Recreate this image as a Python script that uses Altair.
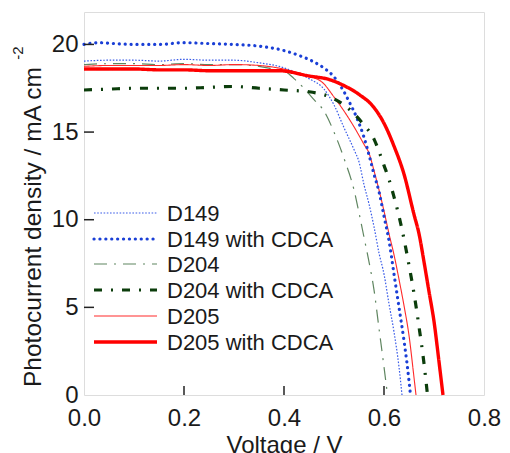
import altair as alt
import pandas as pd

# ---- data ----
series_names = ["D149", "D149 with CDCA", "D204", "D204 with CDCA", "D205", "D205 with CDCA"]

d149_v = [0, 0.05, 0.1, 0.15, 0.2, 0.25, 0.3, 0.35, 0.39, 0.42, 0.45, 0.48, 0.50, 0.52, 0.54, 0.55,
          0.56, 0.57, 0.58, 0.59, 0.60, 0.61, 0.62, 0.63, 0.636]
d149_j = [19.05, 19.1, 19.1, 19.05, 19.15, 19.1, 19.1, 18.95, 18.75, 18.45, 18.05, 17.45, 16.55, 15.25,
          14.0, 13.3, 12.0, 10.9, 9.6, 8.1, 6.9, 5.2, 3.6, 1.6, 0]

d149c_v = [0, 0.03, 0.06, 0.1, 0.15, 0.2, 0.25, 0.3, 0.35, 0.40, 0.43, 0.46, 0.48, 0.50, 0.52, 0.53,
           0.545, 0.56, 0.57, 0.58, 0.59, 0.60, 0.61, 0.62, 0.63, 0.64, 0.646, 0.653]
d149c_j = [20.0, 20.1, 20.05, 20.0, 20.0, 20.1, 20.05, 20.0, 19.9, 19.65, 19.37, 19.0, 18.65, 18.15,
           17.3, 16.75, 15.85, 14.7, 13.7, 12.6, 11.6, 10.2, 8.8, 6.9, 5.0, 3.1, 1.8, 0]

d204_v = [0, 0.05, 0.1, 0.15, 0.2, 0.25, 0.3, 0.35, 0.38, 0.40, 0.42, 0.44, 0.46, 0.48, 0.50, 0.52,
          0.54, 0.55, 0.56, 0.57, 0.58, 0.59, 0.60, 0.607]
d204_j = [18.85, 18.9, 18.9, 18.85, 18.9, 18.85, 18.85, 18.75, 18.6, 18.5, 18.05, 17.5, 16.85, 16.2,
          15.0, 13.5, 11.7, 10.4, 9.0, 7.6, 6.0, 3.8, 1.6, 0]

d204c_v = [0, 0.05, 0.1, 0.15, 0.2, 0.25, 0.3, 0.35, 0.4, 0.45, 0.5, 0.52, 0.54, 0.56, 0.58, 0.59,
           0.60, 0.61, 0.62, 0.63, 0.64, 0.65, 0.66, 0.67, 0.68, 0.687]
d204c_j = [17.4, 17.45, 17.5, 17.5, 17.5, 17.55, 17.6, 17.5, 17.4, 17.3, 16.9, 16.55, 16.05, 15.4,
           14.6, 13.9, 13.1, 12.3, 11.3, 10.2, 8.9, 7.4, 5.8, 3.9, 1.8, 0]

d205_v = [0, 0.05, 0.1, 0.15, 0.2, 0.25, 0.3, 0.35, 0.38, 0.42, 0.45, 0.478, 0.50, 0.52, 0.54, 0.56,
          0.57, 0.58, 0.59, 0.60, 0.61, 0.62, 0.63, 0.64, 0.65, 0.66, 0.664]
d205_j = [18.75, 18.8, 18.8, 18.8, 18.85, 18.8, 18.85, 18.8, 18.7, 18.45, 18.2, 17.8, 17.0, 16.2,
          15.3, 14.3, 13.8, 12.8, 11.7, 10.5, 9.2, 8.0, 6.6, 5.1, 3.4, 1.0, 0]

d205c_v = [0, 0.05, 0.1, 0.15, 0.2, 0.25, 0.3, 0.35, 0.39, 0.45, 0.49, 0.52, 0.55, 0.58, 0.60, 0.62,
           0.64, 0.66, 0.67, 0.68, 0.69, 0.70, 0.71, 0.718]
d205c_j = [18.6, 18.6, 18.6, 18.55, 18.55, 18.5, 18.5, 18.5, 18.5, 18.2, 18.0, 17.65, 17.15, 16.4,
           15.5, 14.2, 12.6, 10.3, 9.2, 7.6, 5.9, 4.2, 1.9, 0]

x_ticks = [0.2, 0.4, 0.6]
y_ticks = [5, 10, 15, 20]

series_v = [d149_v, d149c_v, d204_v, d204c_v, d205_v, d205c_v]
series_j = [d149_j, d149c_j, d204_j, d204c_j, d205_j, d205c_j]

# ---- styles ----
styles = [
    dict(color="#3a5ce8", strokeWidth=1.2, strokeDash=[1.6, 1.6], strokeCap="butt"),
    dict(color="#1a3fd6", strokeWidth=3.2, strokeDash=[0.1, 5.8], strokeCap="round"),
    dict(color="#5f8560", strokeWidth=1.2, strokeDash=[13, 7, 2, 7], strokeCap="butt"),
    dict(color="#0b3d0b", strokeWidth=3.2, strokeDash=[8, 9, 2, 9], strokeCap="butt"),
    dict(color="#ff2a2a", strokeWidth=1.1, strokeDash=[1, 0], strokeCap="butt"),
    dict(color="#ff0000", strokeWidth=3.4, strokeDash=[1, 0], strokeCap="butt"),
]

W, H = 400, 383
FONT = "Liberation Sans"

xscale = alt.Scale(domain=[0, 0.8], nice=False, zero=False)
yscale = alt.Scale(domain=[0, 21.85], nice=False)

xenc = alt.X("V:Q", scale=xscale,
             axis=alt.Axis(values=[0, 0.2, 0.4, 0.6, 0.8], format=".1f", title="Voltage / V",
                           ticks=False, domain=False, grid=False, labelFontSize=24,
                           titleFontSize=24, labelPadding=11, titlePadding=3, labelFlush=False,
                           labelColor="#1a1a1a", titleColor="#1a1a1a", titleFontWeight="normal",
                           labelFont=FONT, titleFont=FONT))
yenc = alt.Y("J:Q", scale=yscale,
             axis=alt.Axis(values=[0, 5, 10, 15, 20], format="d", title=None, labelFlush=False,
                           ticks=False, domain=False, grid=False, labelFontSize=24,
                           labelPadding=6, labelColor="#1a1a1a", labelFont=FONT))

layers = []
for name, v, j, st in zip(series_names, series_v, series_j, styles):
    df = pd.DataFrame({"V": v, "J": j, "series": name})
    layers.append(
        alt.Chart(df).mark_line(interpolate="monotone", **st).encode(x=xenc, y=yenc)
    )

# thin lines underneath, thick red on top
order = [0, 2, 4, 1, 3, 5]
line_layers = [layers[i] for i in order]

# inward ticks
xt = alt.Chart(pd.DataFrame({"V": x_ticks})).mark_rule(color="#222", strokeWidth=1.5).encode(
    x=xenc, y=alt.value(H), y2=alt.value(H - 9))
yt = alt.Chart(pd.DataFrame({"J": y_ticks})).mark_rule(color="#222", strokeWidth=1.5).encode(
    y=yenc, x=alt.value(0), x2=alt.value(10))

# legend
legend_rows = [201, 227, 252, 278, 304, 330]
leg_layers = []
for name, st, ry in zip(series_names, styles, legend_rows):
    ldf = pd.DataFrame({"series": [name]})
    leg_layers.append(
        alt.Chart(ldf).mark_rule(**st).encode(x=alt.value(10), x2=alt.value(73), y=alt.value(ry))
    )
    leg_layers.append(
        alt.Chart(ldf).mark_text(align="left", baseline="middle", fontSize=22, font=FONT,
                                 color="#1a1a1a").encode(
            x=alt.value(83), y=alt.value(ry + 1), text="series:N")
    )

# y title with superscript
ytitle_df = pd.DataFrame({"t": ["Photocurrent density / mA cm"]})
ytitle = alt.Chart(ytitle_df).mark_text(angle=270, align="center", baseline="middle",
                                        fontSize=24.5, font=FONT, color="#1a1a1a").encode(
    x=alt.value(-50), y=alt.value(215), text="t:N")
ysup_df = pd.DataFrame({"t": ["-2"]})
ysup = alt.Chart(ysup_df).mark_text(angle=270, align="center", baseline="middle",
                                    fontSize=15, font=FONT, color="#1a1a1a").encode(
    x=alt.value(-66), y=alt.value(41), text="t:N")

chart = alt.layer(*line_layers, xt, yt, *leg_layers, ytitle, ysup).properties(
    width=W, height=H,
    padding={"left": 76, "top": 4, "right": 18, "bottom": 58},
    autosize=alt.AutoSizeParams(type="none"),
).configure_view(stroke="#222", strokeWidth=1.5).configure(background="white")

chart.save("out.html", embed_options={"renderer": "svg", "actions": False})
